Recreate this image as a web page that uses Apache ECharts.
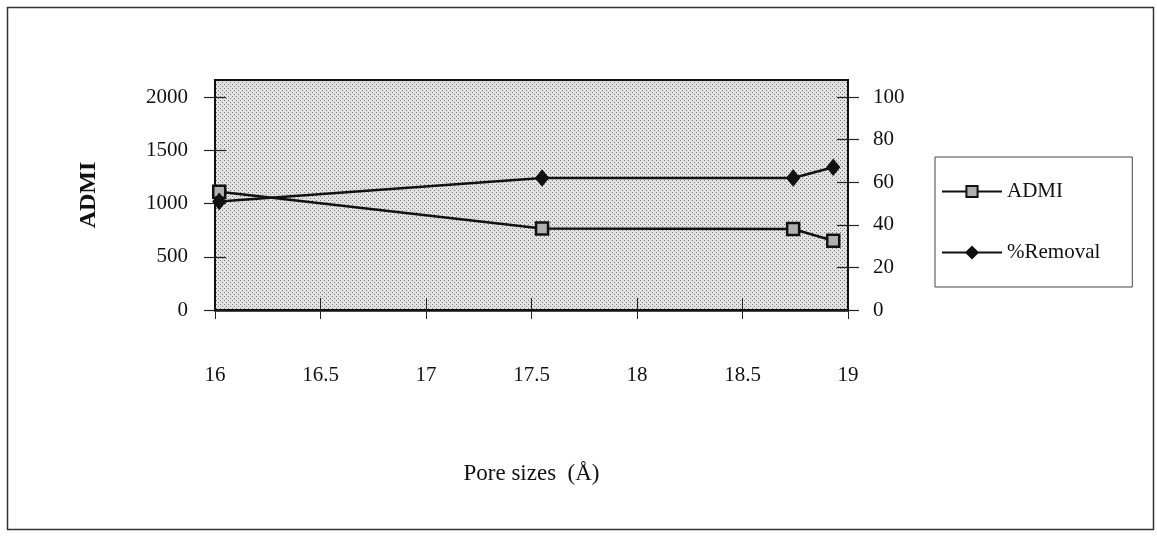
<!DOCTYPE html>
<html>
<head>
<meta charset="utf-8">
<script src="https://cdn.jsdelivr.net/npm/echarts@6/dist/echarts.min.js"></script>
<style>
html,body{margin:0;padding:0;background:#fff;}
#chart{width:1157px;height:537px;}
</style>
</head>
<body>
<div id="chart"></div>
<script>
// ---- data ----
const poreSizes = [16.02, 17.55, 18.74, 18.93];
const admiValues = [1110, 765, 760, 650];
const removalValues = [51, 62, 62, 67];
const xTicks = [16, 16.5, 17, 17.5, 18, 18.5, 19];
const leftTicks = [0, 500, 1000, 1500, 2000];
const rightTicks = [0, 20, 40, 60, 80, 100];

const FONT = '"Liberation Serif", "DejaVu Serif", serif';

// dotted grey texture for plot area
const pat = document.createElement('canvas');
pat.width = 4; pat.height = 4;
const pctx = pat.getContext('2d');
pctx.fillStyle = '#e2e2e2';
pctx.fillRect(0, 0, 4, 4);
pctx.fillStyle = '#7a7a7a';
pctx.fillRect(0, 0, 1, 1);
pctx.fillRect(2, 2, 1, 1);

const chart = echarts.init(document.getElementById('chart'), null, {renderer: 'canvas'});

const admiData = poreSizes.map((x, i) => [x, admiValues[i]]);
const removalData = poreSizes.map((x, i) => [x, removalValues[i]]);

const labelStyle = {color: '#111', fontFamily: FONT, fontSize: 21};
const plain = v => String(v);

chart.setOption({
  animation: false,
  backgroundColor: '#fff',
  grid: {
    left: 215, right: 309, top: 80, bottom: 227,
    show: true,
    backgroundColor: {image: pat, repeat: 'repeat'},
    borderColor: '#111', borderWidth: 2
  },
  legend: {
    left: 935, top: 157,
    orient: 'vertical',
    itemWidth: 60, itemHeight: 14, itemGap: 40,
    padding: [24, 32, 24, 6],
    borderColor: '#444', borderWidth: 1,
    textStyle: {color: '#111', fontFamily: FONT, fontSize: 21},
    data: ['ADMI', '%Removal']
  },
  xAxis: [{
    type: 'value', min: 16, max: 19, interval: 0.5,
    name: 'Pore sizes  (Å)', nameLocation: 'middle', nameGap: 152,
    nameTextStyle: {color: '#111', fontFamily: FONT, fontSize: 23},
    axisLine: {show: true, onZero: false, lineStyle: {color: '#111', width: 2.5}},
    axisTick: {show: true, inside: false, length: 9, lineStyle: {color: '#222', width: 1}, customValues: xTicks},
    axisLabel: Object.assign({margin: 55, customValues: xTicks, formatter: plain}, labelStyle),
    splitLine: {show: false}
  }, {
    type: 'value', min: 16, max: 19, interval: 0.5, position: 'bottom',
    axisLine: {show: false},
    axisTick: {show: true, inside: true, length: 12, lineStyle: {color: '#222', width: 1}, customValues: [16.5, 17, 17.5, 18, 18.5]},
    axisLabel: {show: false},
    splitLine: {show: false}
  }],
  yAxis: [{
    type: 'value', min: 0, max: 2160, position: 'left',
    name: 'ADMI', nameLocation: 'middle', nameGap: 114,
    nameTextStyle: {color: '#111', fontFamily: FONT, fontSize: 24, fontWeight: 'bold'},
    axisLine: {show: true, onZero: false, lineStyle: {color: '#111', width: 2}},
    axisTick: {show: true, length: 11, lineStyle: {color: '#222', width: 1.2}, customValues: leftTicks},
    axisLabel: Object.assign({margin: 27, customValues: leftTicks, formatter: plain}, labelStyle),
    splitLine: {show: false}
  }, {
    type: 'value', min: 0, max: 108, position: 'right',
    axisLine: {show: true, onZero: false, lineStyle: {color: '#111', width: 2}},
    axisTick: {show: true, length: 11, lineStyle: {color: '#222', width: 1.2}, customValues: rightTicks},
    axisLabel: Object.assign({margin: 25, customValues: rightTicks, formatter: plain}, labelStyle),
    splitLine: {show: false}
  }, {
    type: 'value', min: 0, max: 2160, position: 'left',
    axisLine: {show: false},
    axisTick: {show: true, inside: true, length: 11, lineStyle: {color: '#222', width: 1.2}, customValues: leftTicks},
    axisLabel: {show: false},
    splitLine: {show: false}
  }, {
    type: 'value', min: 0, max: 108, position: 'right',
    axisLine: {show: false},
    axisTick: {show: true, inside: true, length: 11, lineStyle: {color: '#222', width: 1.2}, customValues: rightTicks},
    axisLabel: {show: false},
    splitLine: {show: false}
  }],
  series: [{
    name: 'ADMI', type: 'line', xAxisIndex: 0, yAxisIndex: 0,
    data: admiData,
    symbol: 'rect', symbolSize: 12,
    lineStyle: {color: '#111', width: 2.5},
    itemStyle: {color: '#b0b0b0', borderColor: '#111', borderWidth: 2.5},
    z: 3
  }, {
    name: '%Removal', type: 'line', xAxisIndex: 0, yAxisIndex: 1,
    data: removalData,
    symbol: 'diamond', symbolSize: [13, 16],
    lineStyle: {color: '#111', width: 2.5},
    itemStyle: {color: '#111', borderColor: '#111', borderWidth: 1},
    z: 4
  }],
  graphic: [{
    type: 'rect', left: 5, top: 5, z: -1,
    shape: {width: 1146, height: 522},
    style: {fill: 'none', stroke: '#333', lineWidth: 1.5}
  }]
});
</script>
</body>
</html>
